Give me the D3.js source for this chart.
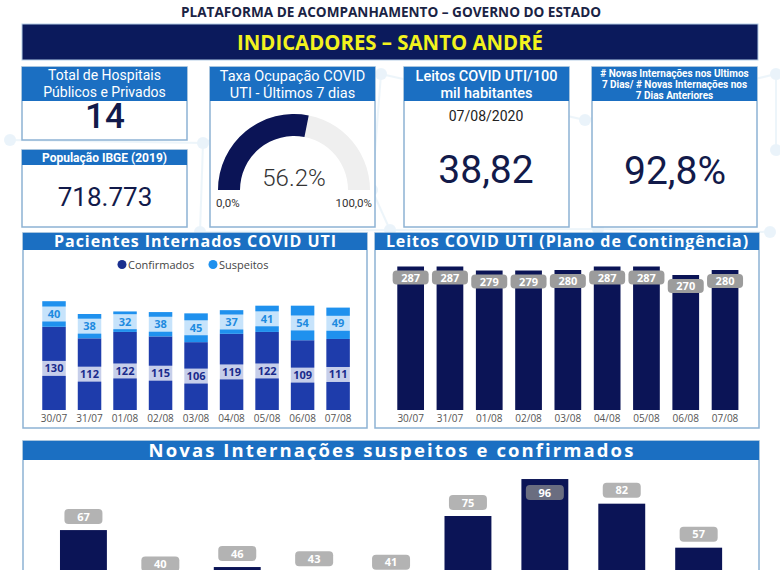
<!DOCTYPE html>
<html>
<head>
<meta charset="utf-8">
<script src="https://cdn.jsdelivr.net/npm/d3@7"></script>
<style>
  html, body { margin: 0; padding: 0; background: #ffffff; overflow: hidden; }
  svg { display: block; }
</style>
</head>
<body>
<svg id="chart" width="780" height="570"></svg>
<script>
// ---------------- DATA ----------------
const pageTitle = "PLATAFORMA DE ACOMPANHAMENTO – GOVERNO DO ESTADO";
const bannerTitle = "INDICADORES – SANTO ANDRÉ";

const totalHospitais = "14";
const populacaoIBGE = "718.773";
const taxaOcupacao = 0.562;
const gaugeMinLabel = "0,0%";
const gaugeMaxLabel = "100,0%";
const leitosPor100mil = "38,82";
const leitosData = "07/08/2020";
const razaoInternacoes = "92,8%";

const dates = ["30/07", "31/07", "01/08", "02/08", "03/08", "04/08", "05/08", "06/08", "07/08"];
const confirmados = [130, 112, 122, 115, 106, 119, 122, 109, 111];
const suspeitos = [40, 38, 32, 38, 45, 37, 41, 54, 49];
const leitosUTI = [287, 287, 279, 279, 280, 287, 287, 270, 280];
const novasInternacoes = [67, 40, 46, 43, 41, 75, 96, 82, 57];

// ---------------- STYLE ----------------
const NAVY = "#0b1456";
const HEADER_BLUE = "#1b6fc2";
const BORDER = "#8db2d4";
const C_CONF = "#1e3cab";
const C_SUSP = "#1f91ee";

const svg = d3.select("#chart");

// faint background network decoration
const deco = svg.append("g").attr("opacity", 0.18);
const nodes = [[203,143],[381,74],[776,74],[776,150],[372,190],[598,229],[200,232],[585,120],[770,232],[10,140],[390,230]];
const links = [[0,1],[1,7],[7,2],[2,3],[4,1],[5,8],[0,6],[6,10],[10,5],[9,0],[4,10]];
deco.selectAll("line").data(links).join("line")
  .attr("x1", d => nodes[d[0]][0]).attr("y1", d => nodes[d[0]][1])
  .attr("x2", d => nodes[d[1]][0]).attr("y2", d => nodes[d[1]][1])
  .attr("stroke", "#9fcbe9").attr("stroke-width", 2);
deco.selectAll("circle").data(nodes).join("circle")
  .attr("cx", d => d[0]).attr("cy", d => d[1]).attr("r", 6)
  .attr("fill", "#8ec3e8");

// ---------------- TITLES ----------------
svg.append("text").attr("x", 391).attr("y", 17).attr("text-anchor", "middle")
  .attr("font-family", "'Liberation Sans Narrow', 'Open Sans', sans-serif")
  .attr("font-weight", 700).attr("font-size", 14).attr("fill", "#1a2344")
  .attr("textLength", 420).attr("lengthAdjust", "spacingAndGlyphs")
  .text(pageTitle);

svg.append("rect").attr("x", 22).attr("y", 24).attr("width", 736).attr("height", 36)
  .attr("fill", "#0b1a5c").attr("stroke", "#b5cde6").attr("stroke-width", 1);
svg.append("text").attr("x", 390).attr("y", 50).attr("text-anchor", "middle")
  .attr("font-family", "'Liberation Sans Narrow', 'Open Sans', sans-serif")
  .attr("font-weight", 700).attr("font-size", 22).attr("fill", "#f2f21e")
  .attr("textLength", 306).attr("lengthAdjust", "spacingAndGlyphs")
  .text(bannerTitle);

// ---------------- KPI CARDS ----------------
function card(x, y, w, hHead, hTotal, lines, fontSize, weight, lineH, firstBase) {
  const g = svg.append("g");
  g.append("rect").attr("x", x).attr("y", y).attr("width", w).attr("height", hTotal)
    .attr("fill", "#fff").attr("stroke", BORDER).attr("stroke-width", 1.5);
  g.append("rect").attr("x", x).attr("y", y).attr("width", w).attr("height", hHead)
    .attr("fill", HEADER_BLUE);
  lines.forEach((t, i) => {
    g.append("text").attr("x", x + w / 2).attr("y", firstBase + i * lineH)
      .attr("text-anchor", "middle").attr("fill", "#fff")
      .attr("font-family", "Roboto, 'Open Sans', sans-serif")
      .attr("font-size", fontSize).attr("font-weight", weight).text(t);
  });
  return g;
}
function bigValue(x, y, txt, size, color, weight) {
  svg.append("text").attr("x", x).attr("y", y).attr("text-anchor", "middle")
    .attr("font-family", "Roboto, 'Open Sans', sans-serif")
    .attr("font-size", size).attr("font-weight", weight || 400)
    .attr("fill", color || "#121a4a").text(txt);
}

// Card 1
card(22, 67, 165, 34, 73, ["Total de Hospitais", "Públicos e Privados"], 14, 400, 17, 80);
bigValue(105, 128, totalHospitais, 35, "#121a4a", 500);

// Card 2
card(22, 150, 165, 15, 77, ["População IBGE (2019)"], 12, 700, 0, 162);
bigValue(105, 206, populacaoIBGE, 26, "#121a4a", 400);

// Card 3 gauge
card(210, 67, 165, 34, 160, ["Taxa Ocupação COVID", "UTI - Últimos 7 dias"], 14.5, 400, 16.5, 81);
const gcx = 294, gcy = 190, rOut = 76, rIn = 54;
const gAngle = d3.scaleLinear().domain([0, 1]).range([-Math.PI / 2, Math.PI / 2]);
const arcGen = d3.arc().innerRadius(rIn).outerRadius(rOut);
const gg = svg.append("g").attr("transform", `translate(${gcx},${gcy})`);
gg.append("path").attr("d", arcGen({ startAngle: gAngle(0), endAngle: gAngle(1) })).attr("fill", "#efefef");
gg.append("path").attr("d", arcGen({ startAngle: gAngle(0), endAngle: gAngle(taxaOcupacao) })).attr("fill", NAVY);
svg.append("text").attr("x", gcx).attr("y", 186).attr("text-anchor", "middle")
  .attr("font-family", "Roboto, sans-serif").attr("font-weight", 300).attr("font-size", 24)
  .attr("fill", "#333").text(d3.format(".1%")(taxaOcupacao));
svg.append("text").attr("x", 216).attr("y", 207).attr("font-family", "Roboto, sans-serif")
  .attr("font-size", 11.5).attr("fill", "#333").text(gaugeMinLabel);
svg.append("text").attr("x", 372).attr("y", 207).attr("text-anchor", "end").attr("font-family", "Roboto, sans-serif")
  .attr("font-size", 11.5).attr("fill", "#333").text(gaugeMaxLabel);

// Card 4
card(404, 67, 165, 34, 160, ["Leitos COVID UTI/100", "mil habitantes"], 14.5, 500, 16.5, 81);
svg.append("text").attr("x", 486).attr("y", 121).attr("text-anchor", "middle")
  .attr("font-family", "Roboto, sans-serif").attr("font-size", 14).attr("fill", "#222").text(leitosData);
bigValue(486, 183, leitosPor100mil, 39, "#121a4a", 400);

// Card 5
card(592, 67, 165, 34, 160, ["# Novas Internações nos Ultimos", "7 Dias/ # Novas Internações nos", "7 Dias Anteriores"], 10, 700, 11, 77);
bigValue(675, 184, razaoInternacoes, 39, "#121a4a", 400);

// ---------------- PANEL helper ----------------
function panel(x, y, w, h, hh, title, titleLen, fs) {
  svg.append("rect").attr("x", x).attr("y", y).attr("width", w).attr("height", h)
    .attr("fill", "#fff").attr("stroke", BORDER).attr("stroke-width", 1.5);
  svg.append("rect").attr("x", x).attr("y", y).attr("width", w).attr("height", hh)
    .attr("fill", HEADER_BLUE);
  const t = svg.append("text").attr("x", x + w / 2).attr("y", y + hh / 2 + fs * 0.36).attr("text-anchor", "middle")
    .attr("font-family", "'Open Sans', sans-serif").attr("font-weight", 700)
    .attr("font-size", fs).attr("fill", "#fff").text(title);
  const natural = t.node().getComputedTextLength();
  const ls = Math.max(0, (titleLen - natural) / title.length);
  t.attr("letter-spacing", ls.toFixed(2));
  t.attr("x", x + w / 2 + ls / 2);
}

// ---------------- Pacientes Internados COVID UTI ----------------
panel(23, 233, 344, 195, 17, "Pacientes Internados COVID UTI", 283, 16);

// legend
const leg = svg.append("g").attr("font-family", "'Open Sans', sans-serif").attr("font-size", 11).attr("fill", "#444");
leg.append("circle").attr("cx", 122).attr("cy", 264.5).attr("r", 4.5).attr("fill", "#1a2f8f");
leg.append("text").attr("x", 128).attr("y", 268.5).text("Confirmados");
leg.append("circle").attr("cx", 213).attr("cy", 264.5).attr("r", 4.5).attr("fill", C_SUSP);
leg.append("text").attr("x", 219).attr("y", 268.5).text("Suspeitos");

const x1 = d3.scaleBand().domain(dates).range([31.6, 360.5]).paddingInner(0.338).paddingOuter(0.3);
const y1 = d3.scaleLinear().domain([0, 200]).range([410, 282]);

const stackData = dates.map((d, i) => ({ date: d, conf: confirmados[i], susp: suspeitos[i] }));
const series = d3.stack().keys(["conf", "susp"])(stackData);
const colors1 = { conf: C_CONF, susp: C_SUSP };
const g1 = svg.append("g");
series.forEach(s => {
  g1.append("g").selectAll("rect").data(s).join("rect")
    .attr("x", d => x1(d.data.date)).attr("width", x1.bandwidth())
    .attr("y", d => y1(d[1])).attr("height", d => y1(d[0]) - y1(d[1]))
    .attr("fill", colors1[s.key]);
});
series.forEach(s => {
  const lg = g1.append("g");
  s.forEach(d => {
    const cy = (y1(d[0]) + y1(d[1])) / 2;
    lg.append("rect").attr("x", x1(d.data.date) - 2).attr("width", x1.bandwidth() + 4)
      .attr("y", cy - 7.5).attr("height", 15).attr("fill", "#fff").attr("opacity", 0.75);
    lg.append("text").attr("x", x1(d.data.date) + x1.bandwidth() / 2).attr("y", cy + 4)
      .attr("text-anchor", "middle").attr("font-family", "'Open Sans', sans-serif")
      .attr("font-weight", 700).attr("font-size", 11)
      .attr("fill", s.key === "conf" ? "#1a2b8c" : "#1e8be0")
      .text(d[1] - d[0]);
  });
});
const ax1 = svg.append("g").attr("transform", "translate(0,412)")
  .call(d3.axisBottom(x1).tickSize(0).tickPadding(3));
ax1.select(".domain").remove();
ax1.selectAll("text").attr("font-family", "'Open Sans', sans-serif").attr("font-size", 10).attr("fill", "#555");

// ---------------- Leitos COVID UTI (Plano de Contingência) ----------------
panel(375, 233, 384, 195, 17, "Leitos COVID UTI (Plano de Contingência)", 363, 16);
const x2 = d3.scaleBand().domain(dates).range([385.5, 750.2]).paddingInner(0.32).paddingOuter(0.3);
const y2 = d3.scaleLinear().domain([0, 300]).range([410, 260]);
const g2 = svg.append("g");
g2.selectAll("rect.bar").data(leitosUTI).join("rect").attr("class", "bar")
  .attr("x", (d, i) => x2(dates[i])).attr("width", x2.bandwidth())
  .attr("y", d => y2(d)).attr("height", d => y2(0) - y2(d)).attr("fill", NAVY);
g2.selectAll("rect.lab").data(leitosUTI).join("rect").attr("class", "lab")
  .attr("x", (d, i) => x2(dates[i]) + x2.bandwidth() / 2 - 18).attr("width", 36)
  .attr("y", d => y2(d) + 4).attr("height", 14).attr("rx", 4)
  .attr("fill", "#9c9c9c");
g2.selectAll("text.lab").data(leitosUTI).join("text").attr("class", "lab")
  .attr("x", (d, i) => x2(dates[i]) + x2.bandwidth() / 2).attr("y", d => y2(d) + 15)
  .attr("text-anchor", "middle").attr("font-family", "'Open Sans', sans-serif")
  .attr("font-weight", 700).attr("font-size", 11).attr("fill", "#fff").text(d => d);
const ax2 = svg.append("g").attr("transform", "translate(0,412)")
  .call(d3.axisBottom(x2).tickSize(0).tickPadding(3));
ax2.select(".domain").remove();
ax2.selectAll("text").attr("font-family", "'Open Sans', sans-serif").attr("font-size", 10).attr("fill", "#555");

// ---------------- Novas Internações ----------------
panel(23, 441, 736, 200, 19, "Novas Internações suspeitos e confirmados", 487, 18.5);
const x3 = d3.scaleBand().domain(dates).range([44.6, 737.5]).paddingInner(0.39).paddingOuter(0.2);
const y3 = d3.scaleLinear().domain([0, 100]).range([648, 472]);
const g3 = svg.append("g");
g3.selectAll("rect.bar").data(novasInternacoes).join("rect").attr("class", "bar")
  .attr("x", (d, i) => x3(dates[i])).attr("width", x3.bandwidth())
  .attr("y", d => y3(d)).attr("height", d => y3(0) - y3(d)).attr("fill", NAVY);
const inside = d => y3(d) - 22 < 462;
const labY = d => inside(d) ? y3(d) + 6 : y3(d) - 21;
g3.selectAll("rect.lab").data(novasInternacoes).join("rect").attr("class", "lab")
  .attr("x", (d, i) => x3(dates[i]) + x3.bandwidth() / 2 - 19).attr("width", 38)
  .attr("y", d => labY(d)).attr("height", 15).attr("rx", 4)
  .attr("fill", "#939393").attr("opacity", 0.7);
g3.selectAll("text.lab").data(novasInternacoes).join("text").attr("class", "lab")
  .attr("x", (d, i) => x3(dates[i]) + x3.bandwidth() / 2).attr("y", d => labY(d) + 11.5)
  .attr("text-anchor", "middle").attr("font-family", "'Open Sans', sans-serif")
  .attr("font-weight", 700).attr("font-size", 11).attr("fill", "#fff").text(d => d);
</script>
</body>
</html>
